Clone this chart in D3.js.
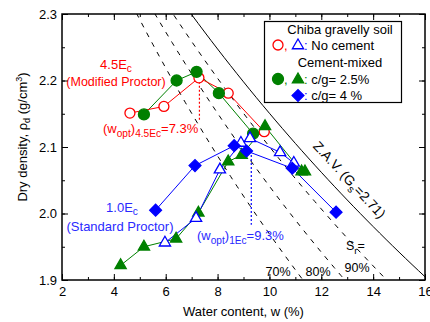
<!DOCTYPE html>
<html>
<head>
<meta charset="utf-8">
<script src="https://cdn.jsdelivr.net/npm/d3@7"></script>
<style>
body { margin: 0; background: #fff; }
svg { display: block; font-family: Arial, "Liberation Sans", sans-serif; }
</style>
</head>
<body>
<div id="chart"></div>
<script>
var width = 430, height = 322;

// 4.5Ec (modified Proctor), no cement - red open circles
var w45None = [4.62, 5.93, 7.28, 8.41, 9.80];
var rho45None = [2.151, 2.161, 2.204, 2.181, 2.123];
// 4.5Ec, c/g = 2.5% - green circles
var w45Cg25 = [5.16, 6.42, 7.19, 8.05, 9.37];
var rho45Cg25 = [2.149, 2.200, 2.213, 2.181, 2.120];
// 1.0Ec (standard Proctor), no cement - blue open triangles
var w1None = [5.97, 7.17, 8.09, 8.90, 9.25, 10.41, 10.94];
var rho1None = [1.956, 1.993, 2.066, 2.106, 2.113, 2.092, 2.076];
// 1.0Ec, c/g = 2.5% - green triangles
var w1Cg25 = [4.26, 5.16, 6.40, 7.26, 8.41, 8.93, 9.83, 11.24, 11.37];
var rho1Cg25 = [1.922, 1.950, 1.962, 2.001, 2.078, 2.088, 2.131, 2.063, 2.063];
// 1.0Ec, c/g = 4% - blue diamonds
var w1Cg4 = [5.61, 7.13, 8.64, 9.12, 10.88, 12.57];
var rho1Cg4 = [2.005, 2.072, 2.102, 2.094, 2.068, 2.002];

var xTicks = [2, 4, 6, 8, 10, 12, 14, 16];
var yTicks = [1.9, 2.0, 2.1, 2.2, 2.3];
var satDegrees = [0.7, 0.8, 0.9];
var satLabels = ["70%", "80%", "90%"];
var gsCurve = 2.74; // effective value that fits the drawn Z.A.V. line
var wOpt45 = 7.3, wOpt1 = 9.3;

var RED = "#ff0000", GREEN = "#008000", BLUE = "#0000ff";

var x = d3.scaleLinear().domain([2, 16]).range([62, 425]);
var y = d3.scaleLinear().domain([1.9, 2.3]).range([280, 14]);

var svg = d3.select("#chart").append("svg")
    .attr("width", width)
    .attr("height", height);

svg.append("clipPath").attr("id", "plotclip")
  .append("rect")
    .attr("x", x(2)).attr("y", y(2.3))
    .attr("width", x(16) - x(2)).attr("height", y(1.9) - y(2.3));

function zip(ws, rs) {
  return ws.map(function(w, i) { return [w, rs[i]]; });
}

// saturation curves and zero air voids line
function curve(sr) {
  var pts = [];
  for (var w = 2; w <= 16.001; w += 0.25) {
    pts.push([w, 1 / (w / 100 / sr + 1 / gsCurve)]);
  }
  return pts;
}
var line = d3.line()
    .x(function(d) { return x(d[0]); })
    .y(function(d) { return y(d[1]); });

var curves = svg.append("g").attr("clip-path", "url(#plotclip)");
satDegrees.forEach(function(sr) {
  curves.append("path")
      .attr("d", line(curve(sr)))
      .attr("fill", "none")
      .attr("stroke", "#000")
      .attr("stroke-width", 1)
      .attr("stroke-dasharray", "5,6");
});
curves.append("path")
    .attr("d", line(curve(1.0)))
    .attr("fill", "none")
    .attr("stroke", "#000")
    .attr("stroke-width", 1);

// optimum water content markers
svg.append("line")
    .attr("x1", x(wOpt45)).attr("x2", x(wOpt45))
    .attr("y1", y(2.204)).attr("y2", y(2.138))
    .attr("stroke", RED).attr("stroke-width", 1.2)
    .attr("stroke-dasharray", "2,2");
svg.append("line")
    .attr("x1", x(wOpt1)).attr("x2", x(wOpt1))
    .attr("y1", y(2.094)).attr("y2", y(1.983))
    .attr("stroke", BLUE).attr("stroke-width", 1.2)
    .attr("stroke-dasharray", "2,2");

// axes frame and ticks
function axisGroup(axis, tx, ty) {
  var g = svg.append("g").attr("transform", "translate(" + tx + "," + ty + ")").call(axis);
  g.select(".domain").remove();
  g.selectAll("line").attr("stroke", "#000").attr("stroke-width", 1);
  g.selectAll("text").attr("font-size", 13).attr("fill", "#000")
    .attr("font-family", "Arial, 'Liberation Sans', sans-serif");
  return g;
}
var xMinor = d3.range(2, 16.01, 1), yMinor = d3.range(1.9, 2.301, 0.05);
axisGroup(d3.axisBottom(x).tickValues(xTicks).tickSize(-6).tickPadding(7).tickFormat(d3.format("d")), 0, y(1.9));
axisGroup(d3.axisBottom(x).tickValues(xMinor).tickSize(-3).tickFormat(""), 0, y(1.9));
axisGroup(d3.axisTop(x).tickValues(xTicks).tickSize(-6).tickFormat(""), 0, y(2.3));
axisGroup(d3.axisTop(x).tickValues(xMinor).tickSize(-3).tickFormat(""), 0, y(2.3));
axisGroup(d3.axisLeft(y).tickValues(yTicks).tickSize(-6).tickPadding(5).tickFormat(d3.format(".1f")), x(2), 0);
axisGroup(d3.axisLeft(y).tickValues(yMinor).tickSize(-3).tickFormat(""), x(2), 0);
axisGroup(d3.axisRight(y).tickValues(yTicks).tickSize(-6).tickFormat(""), x(16), 0);
axisGroup(d3.axisRight(y).tickValues(yMinor).tickSize(-3).tickFormat(""), x(16), 0);

svg.append("rect")
    .attr("x", x(2)).attr("y", y(2.3))
    .attr("width", x(16) - x(2)).attr("height", y(1.9) - y(2.3))
    .attr("fill", "none").attr("stroke", "#000").attr("stroke-width", 1.5);

// series lines
function seriesLine(data, color) {
  svg.append("path")
      .attr("d", line(data))
      .attr("fill", "none")
      .attr("stroke", color)
      .attr("stroke-width", 1);
}
var s45None = zip(w45None, rho45None),
    s45Cg25 = zip(w45Cg25, rho45Cg25),
    s1None = zip(w1None, rho1None),
    s1Cg25 = zip(w1Cg25, rho1Cg25),
    s1Cg4 = zip(w1Cg4, rho1Cg4);
seriesLine(s1Cg25, GREEN);
seriesLine(s1None, BLUE);
seriesLine(s1Cg4, BLUE);
seriesLine(s45Cg25, GREEN);
seriesLine(s45None, RED);

// markers
var triPath = d3.symbol().type(d3.symbolTriangle).size(55)();
var diaPath = d3.symbol().type(d3.symbolSquare).size(70)();

function circles(g, data, r, fill, stroke) {
  g.selectAll(null).data(data).enter().append("circle")
      .attr("cx", function(d) { return x(d[0]); })
      .attr("cy", function(d) { return y(d[1]); })
      .attr("r", r)
      .attr("fill", fill).attr("stroke", stroke).attr("stroke-width", 1.3);
}
function symbols(g, data, path, fill, stroke, rot) {
  g.selectAll(null).data(data).enter().append("path")
      .attr("d", path)
      .attr("transform", function(d) {
        return "translate(" + x(d[0]) + "," + y(d[1]) + ")" + (rot ? " rotate(" + rot + ")" : "");
      })
      .attr("fill", fill).attr("stroke", stroke).attr("stroke-width", 1.3);
}
var marks = svg.append("g");
circles(marks, s45None, 5, "#fff", RED);
circles(marks, s45Cg25, 5.5, GREEN, GREEN);
symbols(marks, s1Cg25, triPath, GREEN, GREEN, 0);
symbols(marks, s1None, triPath, "#fff", BLUE, 0);
symbols(marks, s1Cg4, diaPath, BLUE, BLUE, 45);

// axis titles
svg.append("text")
    .attr("x", (x(2) + x(16)) / 2).attr("y", 316)
    .attr("text-anchor", "middle").attr("font-size", 13)
    .text("Water content, w (%)");

var yt = svg.append("text")
    .attr("transform", "translate(27,137) rotate(-90)")
    .attr("text-anchor", "middle").attr("font-size", 13);
yt.append("tspan").text("Dry density, \u03c1");
yt.append("tspan").attr("font-size", 9).attr("dy", 3).text("d");
yt.append("tspan").attr("dy", -3).text(" (g/cm");
yt.append("tspan").attr("font-size", 9).attr("dy", -5).text("3");
yt.append("tspan").attr("dy", 5).text(")");

// annotations
function subText(px, py, anchor, color, size, parts, subShift) {
  var t = svg.append("text").attr("x", px).attr("y", py)
      .attr("text-anchor", anchor).attr("fill", color).attr("font-size", size);
  var shift = 0, down = subShift || 4;
  parts.forEach(function(p) {
    var want = p[1] === "sub" ? down : (p[1] === "sup" ? -5 : 0);
    t.append("tspan")
        .attr("dy", want - shift)
        .attr("font-size", p[1] ? size * 0.78 : size)
        .text(p[0]);
    shift = want;
  });
  return t;
}
subText(116, 69, "middle", RED, 13, [["4.5E"], ["c", "sub"]], 3);
subText(116, 86, "middle", RED, 12.5, [["(Modified Proctor)"]]);
subText(103, 133, "start", RED, 13, [["(w"], ["opt", "sub"], [")"], ["4.5Ec", "sub"], ["=7.3%"]]);

subText(122, 212, "middle", "#2a2aff", 13, [["1.0E"], ["c", "sub"]], 3);
subText(120, 231, "middle", "#2a2aff", 13, [["(Standard Proctor)"]]);
subText(197, 240, "start", "#2a2aff", 13, [["(w"], ["opt", "sub"], [")"], ["1Ec", "sub"], ["=9.3%"]]);

subText(346, 183, "middle", "#000", 13.5, [["Z.A.V. (G"], ["s", "sub"], ["=2.71)"]])
    .attr("transform", "rotate(47,346,183)");

subText(346, 250, "start", "#000", 12.5, [["S"], ["r", "sub"], ["="]]);
svg.selectAll(null).data(satLabels).enter().append("text")
    .attr("x", function(d, i) { return [278, 318, 357][i]; })
    .attr("y", function(d, i) { return [276, 276, 272][i]; })
    .attr("text-anchor", "middle").attr("font-size", 12.5)
    .text(function(d) { return d; });

// legend
var lg = svg.append("g");
lg.append("rect").attr("x", 264.5).attr("y", 21.5).attr("width", 137).attr("height", 81)
    .attr("fill", "#fff").attr("stroke", "#000").attr("stroke-width", 1.2);
lg.append("text").attr("x", 340).attr("y", 34).attr("text-anchor", "middle").attr("font-size", 13)
    .text("Chiba gravelly soil");
lg.append("text").attr("x", 340).attr("y", 67).attr("text-anchor", "middle").attr("font-size", 13)
    .text("Cement-mixed");
circles(lg, [[x.invert(278), y.invert(45)]], 5, "#fff", RED);
symbols(lg, [[x.invert(298), y.invert(45.5)]], triPath, "#fff", BLUE, 0);
circles(lg, [[x.invert(278), y.invert(79)]], 5.5, GREEN, GREEN);
symbols(lg, [[x.invert(298), y.invert(79.5)]], triPath, GREEN, GREEN, 0);
symbols(lg, [[x.invert(298), y.invert(95.5)]], diaPath, BLUE, BLUE, 45);
lg.append("text").attr("x", 284).attr("y", 50).attr("font-size", 13).attr("fill", RED).text(",");
lg.append("text").attr("x", 284).attr("y", 84).attr("font-size", 13).attr("fill", GREEN).text(",");
var rows = [[50, BLUE, " No cement"], [84, GREEN, " c/g= 2.5%"], [100, BLUE, " c/g= 4 %"]];
rows.forEach(function(r) {
  var t = lg.append("text").attr("x", 304).attr("y", r[0]).attr("font-size", 13);
  t.append("tspan").attr("fill", r[1]).text(":");
  t.append("tspan").attr("fill", "#000").text(r[2]);
});
</script>
</body>
</html>
